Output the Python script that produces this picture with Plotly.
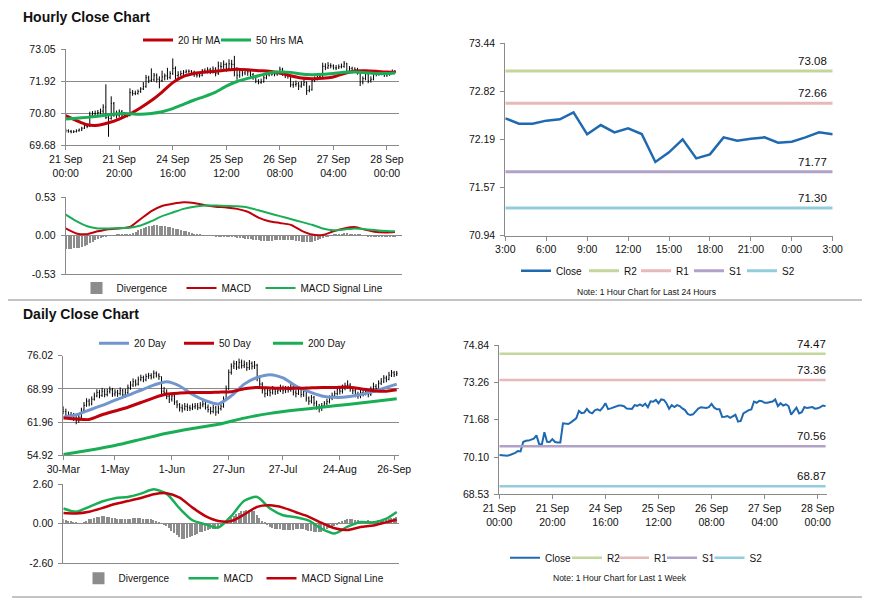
import plotly.graph_objects as go

W, H = 873, 601
PAGE_MARGIN = 8  # default <body> margin of the page the figure is placed in
FONT = "Liberation Sans, Arial, sans-serif"

# ====================== DATA ======================
# ---- Hourly (last 1 week, hourly bars) ----
H_TICK_DAYS = ["21 Sep", "21 Sep", "24 Sep", "25 Sep", "26 Sep", "27 Sep", "28 Sep"]
H_TICK_TIMES = ["00:00", "20:00", "16:00", "12:00", "08:00", "04:00", "00:00"]
H_TICK_IDX = [0, 20, 40, 60, 80, 100, 120]

H_FIRST_OPEN = 70.22
H_CLOSE = [70.19, 70.17, 70.15, 70.16, 70.19, 70.22, 70.28, 70.36, 70.34, 70.74,
           70.79, 70.80, 70.83, 70.88, 71.02, 70.66, 70.62, 71.15, 70.75, 70.74,
           70.86, 70.74, 70.72, 70.72, 71.53, 71.50, 71.50, 71.57, 71.66, 71.74,
           72.05, 71.96, 71.98, 72.14, 72.00, 71.95, 72.08, 72.12, 72.07, 72.20,
           72.38, 72.13, 72.16, 72.20, 72.25, 72.28, 72.28, 72.25, 72.16, 72.14,
           72.14, 72.30, 72.27, 72.33, 72.26, 72.36, 72.21, 72.46, 72.44, 72.52,
           72.38, 72.54, 72.52, 72.38, 72.14, 72.30, 72.22, 72.30, 72.26, 72.16,
           72.09, 71.93, 71.88, 71.91, 72.05, 72.15, 72.21, 72.18, 72.18, 72.21,
           72.35, 72.19, 72.12, 72.12, 71.80, 71.81, 71.84, 71.76, 71.83, 71.89,
           71.60, 71.63, 71.95, 72.02, 72.09, 72.12, 72.45, 72.40, 72.48,
           72.465, 72.396, 72.396, 72.435, 72.452, 72.543, 72.257, 72.378, 72.283, 72.335,
           72.261, 71.898, 72.023, 72.192, 71.945, 71.997, 72.218, 72.175, 72.201, 72.218,
           72.149, 72.162, 72.218, 72.283, 72.257]
H_HIGH = [70.27, 70.24, 70.22, 70.21, 70.24, 70.27, 70.33, 70.42, 70.44, 70.86,
          70.88, 70.90, 70.92, 70.97, 71.12, 71.82, 70.80, 71.40, 71.20, 70.90,
          70.94, 70.92, 70.82, 70.80, 71.68, 71.62, 71.60, 71.64, 71.72, 71.90,
          72.15, 72.12, 72.38, 72.22, 72.20, 72.10, 72.30, 72.20, 72.40, 72.28,
          72.73, 72.45, 72.28, 72.30, 72.32, 72.34, 72.34, 72.32, 72.30, 72.22,
          72.24, 72.36, 72.38, 72.42, 72.40, 72.45, 72.42, 72.62, 72.60, 72.66,
          72.58, 72.70, 72.68, 72.82, 72.42, 72.38, 72.36, 72.38, 72.36, 72.30,
          72.22, 72.14, 72.00, 72.02, 72.12, 72.22, 72.28, 72.30, 72.26, 72.30,
          72.44, 72.40, 72.24, 72.20, 72.16, 71.92, 71.95, 71.90, 71.94, 72.00,
          71.92, 71.78, 72.04, 72.10, 72.16, 72.20, 72.58, 72.56, 72.60, 72.56,
          72.52, 72.50, 72.52, 72.55, 72.64, 72.58, 72.46, 72.44, 72.42, 72.40,
          72.30, 72.10, 72.26, 72.24, 72.10, 72.28, 72.28, 72.26, 72.28, 72.26,
          72.24, 72.28, 72.34, 72.32]
H_LOW = [70.12, 70.12, 70.10, 70.11, 70.13, 70.16, 70.18, 70.25, 70.28, 70.32,
         70.66, 70.70, 70.72, 70.76, 70.80, 70.60, 69.98, 70.58, 70.68, 70.62,
         70.66, 70.66, 70.64, 70.66, 70.70, 71.42, 71.44, 71.46, 71.52, 71.62,
         71.70, 71.86, 71.90, 71.92, 71.88, 71.68, 71.90, 71.96, 71.98, 72.00,
         72.15, 72.00, 72.04, 72.10, 72.15, 72.20, 72.22, 72.18, 72.08, 72.06,
         72.06, 72.10, 72.20, 72.20, 72.18, 72.20, 72.10, 72.15, 72.30, 72.36,
         72.26, 72.30, 72.36, 72.10, 71.98, 72.05, 72.10, 72.14, 72.12, 72.05,
         71.98, 71.86, 71.82, 71.84, 71.88, 72.00, 72.10, 72.12, 72.10, 72.12,
         72.16, 72.12, 72.04, 72.02, 71.72, 71.70, 71.74, 71.62, 71.70, 71.76,
         71.45, 71.54, 71.60, 71.90, 71.96, 72.02, 72.08, 72.32, 72.36, 72.38,
         72.34, 72.32, 72.36, 72.38, 72.40, 72.18, 72.20, 72.20, 72.22, 72.16,
         71.76, 71.82, 71.96, 71.86, 71.88, 71.96, 72.10, 72.12, 72.14, 72.08,
         72.08, 72.12, 72.18, 72.20]

H_MA_IDX = [0, 4, 8, 12, 16, 20, 24, 28, 32, 36, 40, 44, 48, 52, 56, 60,
            64, 68, 72, 76, 80, 84, 88, 92, 96, 100, 104, 108, 112, 116, 120, 123]
H_MA20 = [70.72, 70.55, 70.40, 70.38, 70.47, 70.60, 70.78, 71.00, 71.25, 71.55, 71.88, 72.10,
          72.20, 72.25, 72.28, 72.32, 72.35, 72.33, 72.30, 72.28, 72.22, 72.12, 72.04, 72.02,
          72.03, 72.08, 72.20, 72.29, 72.30, 72.28, 72.25, 72.24]
H_MA50 = [70.60, 70.63, 70.66, 70.70, 70.75, 70.79, 70.79, 70.77, 70.80, 70.86, 70.97, 71.12,
          71.27, 71.40, 71.55, 71.76, 71.92, 72.03, 72.12, 72.22, 72.25, 72.24, 72.18, 72.16,
          72.17, 72.20, 72.24, 72.25, 72.23, 72.20, 72.20, 72.22]
H_MACD = [0.10, 0.03, 0.02, 0.06, 0.09, 0.10, 0.12, 0.23, 0.34, 0.41, 0.44, 0.46,
          0.45, 0.42, 0.40, 0.39, 0.37, 0.33, 0.25, 0.20, 0.175, 0.15, 0.07, 0.015,
          0.01, 0.06, 0.10, 0.12, 0.08, 0.05, 0.045, 0.05]
H_SIGNAL = [0.29, 0.20, 0.13, 0.10, 0.10, 0.105, 0.11, 0.14, 0.20, 0.27, 0.32, 0.37,
            0.40, 0.415, 0.415, 0.41, 0.405, 0.39, 0.35, 0.31, 0.27, 0.23, 0.19, 0.15,
            0.10, 0.075, 0.085, 0.10, 0.09, 0.075, 0.065, 0.06]
H_DIV = [-0.19, -0.19, -0.19, -0.18, -0.18, -0.17, -0.16, -0.15, -0.13, -0.11,
         -0.09, -0.07, -0.05, -0.03, -0.02, -0.01, -0.005,
         0.0, 0.0, 0.005, 0.005, 0.005, 0.005, 0.01, 0.01,
         0.03, 0.05, 0.07, 0.09, 0.10, 0.115, 0.125, 0.135, 0.14, 0.14, 0.135, 0.13, 0.125,
         0.12, 0.11, 0.10, 0.09, 0.085, 0.075, 0.065, 0.055, 0.045, 0.035, 0.025, 0.015, 0.008,
         0.0, 0.0, -0.005, -0.005, -0.005, -0.01, -0.01, -0.01, -0.01, -0.015, -0.015, -0.02, -0.02, -0.03,
         -0.035, -0.04, -0.045, -0.05, -0.055, -0.06, -0.065, -0.07, -0.075, -0.08,
         -0.08, -0.08, -0.075, -0.07, -0.07, -0.065, -0.065, -0.065, -0.07, -0.07,
         -0.07, -0.075, -0.08, -0.085, -0.085, -0.09, -0.09, -0.085, -0.08, -0.07,
         -0.055, -0.04, -0.025, -0.01,
         0.0, 0.01, 0.015, 0.02, 0.025, 0.03, 0.03, 0.025, 0.02, 0.015, 0.01, 0.005, 0.0, -0.005,
         -0.01, -0.015, -0.02, -0.025, -0.025, -0.02, -0.02, -0.015, -0.015, -0.01, -0.01]

# ---- Last 24 hours ----
H24_LABELS = ["3:00", "4:00", "5:00", "6:00", "7:00", "8:00", "9:00", "10:00", "11:00",
              "12:00", "13:00", "14:00", "15:00", "16:00", "17:00", "18:00", "19:00",
              "20:00", "21:00", "22:00", "23:00", "0:00", "1:00", "2:00", "3:00"]
H24_CLOSE = H_CLOSE[-25:]
H24_Y_TICKS = [70.94, 71.57, 72.19, 72.82, 73.44]
DAY_LEVEL_NAMES = ["R2", "R1", "S1", "S2"]
DAY_LEVEL_VALUES = [73.08, 72.66, 71.77, 71.30]

# ---- Last 1 week ----
WEEK_Y_TICKS = [68.53, 70.10, 71.68, 73.26, 74.84]
WEEK_LEVEL_VALUES = [74.47, 73.36, 70.56, 68.87]

# ---- Daily ----
D_TICK_LABELS = ["30-Mar", "1-May", "1-Jun", "27-Jun", "27-Jul", "24-Aug", "26-Sep"]
D_TICK_IDX = [0, 20, 42, 64, 85, 107, 128]
D_FIRST_OPEN = 64.6
D_CLOSE = [64.2, 63.0, 63.5, 63.4, 62.8, 62.3, 63.0, 64.5, 65.5, 66.4,
           65.8, 66.8, 67.5, 68.2, 67.6, 68.5, 67.8, 68.4, 68.8, 67.9,
           68.3, 68.0, 68.6, 67.7, 68.2, 69.2, 69.8, 70.5, 70.0, 71.0,
           71.4, 70.9, 71.6, 71.8, 71.5, 72.3, 71.9, 71.6, 68.5, 68.2,
           67.4, 66.8, 67.5, 66.2, 65.6, 65.0, 64.8, 65.3, 65.0, 64.9,
           65.2, 65.4, 65.0, 65.6, 65.8, 65.1, 64.6, 64.2, 65.0, 64.1,
           64.8, 65.3, 66.8, 69.0, 72.5, 73.8, 74.3, 73.6, 74.6, 73.9,
           74.2, 73.5, 74.4, 73.8, 74.0, 71.2, 70.0, 68.8, 68.0, 68.6,
           68.2, 68.9, 68.4, 68.7, 69.3, 68.6, 69.0, 68.8, 69.4, 68.3,
           68.0, 69.1, 67.8, 68.5, 67.0, 66.4, 67.2, 66.0, 65.2, 64.8,
           65.4, 65.9, 66.3, 67.0, 67.6, 68.0, 68.8, 68.5, 69.2, 69.6,
           69.8, 69.0, 68.6, 67.9, 67.5, 68.2, 68.0, 68.4, 67.8, 68.8,
           69.5, 69.0, 70.2, 70.6, 71.3, 71.0, 71.9, 72.4, 72.0, 72.3]
D_HIGH = [65.3, 64.8, 64.2, 64.1, 63.9, 63.2, 63.6, 65.0, 66.2, 67.0,
          66.9, 67.4, 68.2, 68.9, 68.8, 69.2, 69.0, 69.0, 69.5, 69.2,
          68.9, 68.8, 69.3, 69.0, 69.0, 69.9, 70.6, 71.2, 71.0, 71.6,
          72.0, 71.8, 72.2, 72.4, 72.3, 72.9, 72.7, 72.3, 71.6, 69.4,
          68.9, 67.9, 68.2, 67.8, 66.6, 66.0, 65.7, 66.0, 65.9, 65.6,
          65.9, 66.0, 66.0, 66.2, 66.6, 66.3, 65.7, 65.2, 65.6, 65.4,
          65.5, 66.0, 67.4, 69.7, 73.1, 74.4, 75.0, 74.9, 75.4, 75.2,
          75.0, 74.7, 75.1, 74.8, 74.9, 74.3, 71.8, 70.4, 69.4, 69.3,
          69.0, 69.6, 69.3, 69.4, 69.9, 69.7, 69.6, 69.6, 70.0, 69.7,
          68.8, 69.6, 69.4, 69.0, 68.8, 67.4, 67.7, 67.5, 66.5, 65.8,
          66.0, 66.4, 66.9, 67.6, 68.2, 68.6, 69.4, 69.3, 69.9, 70.3,
          70.8, 70.2, 69.5, 69.0, 68.4, 68.8, 68.9, 69.2, 68.9, 69.5,
          70.3, 70.0, 70.8, 71.3, 71.9, 71.8, 72.6, 73.0, 72.8, 72.8]
D_LOW = [63.6, 62.6, 62.5, 62.7, 62.2, 61.5, 61.8, 62.8, 64.2, 65.2,
         65.3, 65.5, 66.5, 67.2, 67.0, 67.3, 67.2, 67.4, 68.0, 67.3,
         67.4, 67.3, 67.6, 67.0, 67.2, 67.9, 68.8, 69.4, 69.5, 69.7,
         70.6, 70.4, 70.6, 71.1, 71.0, 71.2, 71.4, 70.9, 67.8, 67.6,
         66.8, 66.0, 66.3, 65.6, 64.9, 64.2, 64.0, 64.4, 64.3, 64.3,
         64.5, 64.7, 64.5, 64.7, 65.1, 64.6, 64.0, 63.6, 63.8, 63.3,
         63.7, 64.4, 65.0, 66.5, 68.8, 72.0, 73.2, 73.0, 73.2, 73.3,
         73.4, 72.8, 73.0, 73.1, 73.2, 70.6, 69.4, 68.0, 67.2, 67.5,
         67.4, 67.8, 67.7, 67.9, 68.3, 67.9, 68.1, 68.2, 68.4, 67.6,
         67.2, 67.7, 67.2, 67.3, 66.3, 65.6, 65.9, 65.3, 64.6, 64.0,
         64.3, 65.0, 65.5, 65.9, 66.6, 67.1, 67.6, 67.8, 68.0, 68.7,
         69.0, 68.4, 67.9, 67.2, 66.9, 67.0, 67.4, 67.6, 67.2, 67.5,
         68.5, 68.4, 68.7, 69.8, 70.2, 70.4, 70.8, 71.5, 71.5, 71.7]

D_MA_IDX = [0, 5, 10, 15, 20, 25, 30, 35, 40, 45, 50, 55, 60, 65, 70, 75, 80, 85,
            90, 95, 100, 105, 110, 115, 120, 125, 129]
D_MA20 = [63.0, 63.5, 64.5, 65.5, 66.6, 67.6, 68.7, 69.8, 70.5, 69.6, 67.8, 66.5, 65.8,
          67.5, 70.0, 71.4, 72.0, 71.3, 69.6, 68.4, 67.5, 67.2, 67.3, 67.8, 68.4, 69.3, 70.0]
D_MA50 = [62.8, 62.6, 62.5, 63.5, 64.3, 65.1, 66.1, 67.1, 67.9, 68.1, 68.2, 68.2, 68.3,
          68.4, 69.0, 69.3, 69.2, 69.1, 69.1, 69.2, 69.3, 69.3, 69.4, 69.0, 68.6, 68.5, 68.8]
D_MA200_IDX = [0, 10, 20, 30, 40, 50, 60, 70, 80, 90, 100, 110, 120, 129]
D_MA200 = [55.1, 56.0, 57.0, 58.3, 59.6, 60.6, 61.5, 62.8, 63.8, 64.5, 65.1, 65.7, 66.3, 66.9]

D_MACD = [0.99, 0.78, 1.10, 1.45, 1.67, 1.75, 1.97, 2.25, 1.95, 1.00, 0.22, -0.05, -0.26,
          0.50, 1.50, 1.75, 0.99, 0.55, 0.42, 0.20, -0.35, -0.65, -0.20, 0.11, 0.08, 0.33, 0.77]
D_SIGNAL = [0.70, 0.67, 0.78, 1.02, 1.29, 1.48, 1.68, 1.93, 2.00, 1.70, 1.05, 0.50, 0.18,
            0.17, 0.60, 1.10, 1.20, 1.05, 0.75, 0.45, 0.05, -0.30, -0.42, -0.22, -0.12, 0.10, 0.26]
D_DIV = [0.30, 0.25, 0.20, 0.15, 0.10, 0.05, 0.02, 0.0,
         0.10, 0.20, 0.28, 0.33, 0.38, 0.42,
         0.46, 0.48, 0.48, 0.46, 0.44, 0.40,
         0.36, 0.32, 0.30, 0.28, 0.28, 0.30, 0.32, 0.34, 0.35, 0.35, 0.34,
         0.33, 0.32, 0.30, 0.28, 0.22, 0.15, 0.08, 0.02,
         -0.05, -0.15, -0.30, -0.45, -0.60, -0.75, -0.88, -0.98, -1.0, -0.96, -0.90, -0.82, -0.74, -0.66,
         -0.58, -0.52, -0.46, -0.42, -0.38, -0.35, -0.32, -0.28, -0.20, -0.08,
         0.05, 0.20, 0.35, 0.50, 0.62, 0.72, 0.80, 0.86, 0.90, 0.92, 0.90, 0.80, 0.60, 0.40,
         0.20, 0.05, -0.10, -0.20,
         -0.28, -0.32, -0.35, -0.38, -0.40, -0.40, -0.42, -0.42, -0.40, -0.38,
         -0.36, -0.36, -0.38, -0.40, -0.45, -0.50, -0.52, -0.55, -0.55, -0.52,
         -0.45, -0.38, -0.30, -0.22, -0.15, -0.05, 0.05, 0.15, 0.22, 0.28,
         0.30, 0.28, 0.25, 0.22, 0.20, 0.18, 0.20, 0.22, 0.20, 0.18,
         0.20, 0.22, 0.25, 0.28, 0.30, 0.32, 0.35, 0.38, 0.42]

# ====================== STYLE ======================
RED = "#C0000B"
GREEN = "#19AE55"
BLUE_MA = "#7196CE"
CLOSE_BLUE = "#1F69B1"
DIV_GRAY = "#8C8C8C"
LEVEL_COLORS = ["#C3D69B", "#E6B9B8", "#B3A2C7", "#93CDDD"]
GRID = "#8A8A8A"
TXT = "#111111"


def fx(p):
    # page pixel -> paper fraction (figure sits PAGE_MARGIN px inside the page)
    return (p - PAGE_MARGIN) / W


def fy(p):
    return 1 - (p - PAGE_MARGIN) / H


fig = go.Figure()

# ---------- Panel A: hourly candles + MAs ----------
h_idx = list(range(len(H_CLOSE)))
h_open = [H_FIRST_OPEN] + H_CLOSE[:-1]
fig.add_trace(go.Ohlc(x=h_idx, open=h_open, high=H_HIGH, low=H_LOW, close=H_CLOSE,
                      increasing=dict(line=dict(color="black", width=1)),
                      decreasing=dict(line=dict(color="black", width=1)),
                      tickwidth=0.3, showlegend=False, hoverinfo="skip",
                      xaxis="x", yaxis="y"))
fig.add_trace(go.Scatter(x=H_MA_IDX, y=H_MA20, mode="lines", name="20 Hr MA",
                         line=dict(color=RED, width=3, shape="spline", smoothing=0.6),
                         xaxis="x", yaxis="y", legend="legend", legendwidth=33))
fig.add_trace(go.Scatter(x=H_MA_IDX, y=H_MA50, mode="lines", name="50 Hrs MA",
                         line=dict(color=GREEN, width=3, shape="spline", smoothing=0.6),
                         xaxis="x", yaxis="y", legend="legend"))

# ---------- Panel B: hourly MACD ----------
fig.add_trace(go.Bar(x=list(range(len(H_DIV))), y=H_DIV, name="Divergence", width=0.45,
                     marker=dict(color=DIV_GRAY, line=dict(width=0)),
                     xaxis="x2", yaxis="y2", legend="legend2", legendwidth=60))
fig.add_trace(go.Scatter(x=H_MA_IDX, y=H_MACD, mode="lines", name="MACD",
                         line=dict(color=RED, width=2, shape="spline", smoothing=0.6),
                         xaxis="x2", yaxis="y2", legend="legend2", legendwidth=34))
fig.add_trace(go.Scatter(x=H_MA_IDX, y=H_SIGNAL, mode="lines", name="MACD Signal Line",
                         line=dict(color=GREEN, width=2, shape="spline", smoothing=0.6),
                         xaxis="x2", yaxis="y2", legend="legend2"))

# ---------- Panel C: last 24 hours ----------
h24_idx = list(range(len(H24_CLOSE)))
fig.add_trace(go.Scatter(x=h24_idx, y=H24_CLOSE, mode="lines", name="Close",
                         line=dict(color=CLOSE_BLUE, width=2.5),
                         xaxis="x3", yaxis="y3", legend="legend3", legendwidth=23))
for name, val, col, lw in zip(DAY_LEVEL_NAMES, DAY_LEVEL_VALUES, LEVEL_COLORS, [7, 8, 8, 0]):
    fig.add_trace(go.Scatter(x=h24_idx, y=[val] * len(h24_idx), mode="lines", name=name,
                             line=dict(color=col, width=3), hoverinfo="skip",
                             xaxis="x3", yaxis="y3", legend="legend3",
                             legendwidth=lw if lw else None))

# ---------- Panel D: daily candles + MAs ----------
d_idx = list(range(len(D_CLOSE)))
d_open = [D_FIRST_OPEN] + D_CLOSE[:-1]
fig.add_trace(go.Ohlc(x=d_idx, open=d_open, high=D_HIGH, low=D_LOW, close=D_CLOSE,
                      increasing=dict(line=dict(color="black", width=1)),
                      decreasing=dict(line=dict(color="black", width=1)),
                      tickwidth=0.3, showlegend=False, hoverinfo="skip",
                      xaxis="x4", yaxis="y4"))
fig.add_trace(go.Scatter(x=D_MA_IDX, y=D_MA20, mode="lines", name="20 Day",
                         line=dict(color=BLUE_MA, width=3, shape="spline", smoothing=0.7),
                         xaxis="x4", yaxis="y4", legend="legend4", legendwidth=40))
fig.add_trace(go.Scatter(x=D_MA_IDX, y=D_MA50, mode="lines", name="50 Day",
                         line=dict(color=RED, width=3, shape="spline", smoothing=0.6),
                         xaxis="x4", yaxis="y4", legend="legend4", legendwidth=44))
fig.add_trace(go.Scatter(x=D_MA200_IDX, y=D_MA200, mode="lines", name="200 Day",
                         line=dict(color=GREEN, width=3, shape="spline", smoothing=0.6),
                         xaxis="x4", yaxis="y4", legend="legend4"))

# ---------- Panel E: daily MACD ----------
fig.add_trace(go.Bar(x=list(range(len(D_DIV))), y=D_DIV, name="Divergence", width=0.45,
                     marker=dict(color=DIV_GRAY, line=dict(width=0)),
                     xaxis="x5", yaxis="y5", legend="legend5", legendwidth=60))
fig.add_trace(go.Scatter(x=D_MA_IDX, y=D_MACD, mode="lines", name="MACD",
                         line=dict(color=GREEN, width=2.5, shape="spline", smoothing=0.7),
                         xaxis="x5", yaxis="y5", legend="legend5", legendwidth=33))
fig.add_trace(go.Scatter(x=D_MA_IDX, y=D_SIGNAL, mode="lines", name="MACD Signal Line",
                         line=dict(color=RED, width=2.5, shape="spline", smoothing=0.7),
                         xaxis="x5", yaxis="y5", legend="legend5"))

# ---------- Panel F: last 1 week close ----------
fig.add_trace(go.Scatter(x=h_idx, y=H_CLOSE, mode="lines", name="Close",
                         line=dict(color=CLOSE_BLUE, width=2),
                         xaxis="x6", yaxis="y6", legend="legend6", legendwidth=17))
for name, val, col, lw in zip(DAY_LEVEL_NAMES, WEEK_LEVEL_VALUES, LEVEL_COLORS, [2, 3, 2.5, 0]):
    fig.add_trace(go.Scatter(x=h_idx, y=[val] * len(h_idx), mode="lines", name=name,
                             line=dict(color=col, width=2.5), hoverinfo="skip",
                             xaxis="x6", yaxis="y6", legend="legend6",
                             legendwidth=lw if lw else None))

# ====================== LAYOUT ======================
tickfont = dict(family=FONT, size=10.5, color=TXT)


def xax(d0, d1, anchor, rng, tickvals=None, ticktext=None, labels=True, **kw):
    a = dict(domain=[fx(d0), fx(d1)], anchor=anchor, range=rng, showgrid=False,
             zeroline=False, showline=True, linecolor=GRID, linewidth=1,
             ticks="outside" if labels else "", ticklen=4, tickcolor=GRID,
             showticklabels=labels, tickfont=tickfont, fixedrange=True,
             rangeslider=dict(visible=False), automargin=False)
    if tickvals is not None:
        a.update(tickmode="array", tickvals=tickvals, ticktext=ticktext)
    a.update(kw)
    return a


def yax(top, bottom, anchor, rng, tickvals, ticktext, grid=True):
    return dict(domain=[fy(bottom), fy(top)], anchor=anchor, range=rng,
                tickmode="array", tickvals=tickvals, ticktext=ticktext,
                showgrid=grid, gridcolor=GRID, gridwidth=1, zeroline=False,
                showline=True, linecolor=GRID, linewidth=1, ticks="outside",
                ticklen=4, tickcolor=GRID, tickfont=tickfont, fixedrange=True,
                ticklabelstandoff=3, automargin=False)


h_ticktext = [f"{d}<br>{t}" for d, t in zip(H_TICK_DAYS, H_TICK_TIMES)]
A_Y = [69.68, 70.80, 71.92, 73.05]
B_Y = [-0.53, 0.0, 0.53]
D_Y = [54.92, 61.96, 68.99, 76.02]
E_Y = [-2.60, 0.0, 2.60]


def legend_cfg(xpx, ypx):
    return dict(x=fx(xpx), y=fy(ypx), xanchor="left", yanchor="middle",
                orientation="h", bgcolor="rgba(0,0,0,0)", borderwidth=0,
                font=dict(family=FONT, size=10, color=TXT), itemwidth=30,
                itemclick=False, itemdoubleclick=False)


fig.update_layout(
    width=W, height=H, autosize=False,
    margin=dict(l=0, r=0, t=0, b=0, pad=0, autoexpand=False),
    paper_bgcolor="white", plot_bgcolor="white",
    font=dict(family=FONT, size=10.5, color=TXT),
    showlegend=True, bargap=0,
    xaxis=xax(65.7, 399, "y", [0, 124.5], H_TICK_IDX, h_ticktext),
    yaxis=yax(49.3, 145.3, "x", [A_Y[0], A_Y[-1]], A_Y, [f"{v:.2f}" for v in A_Y]),
    xaxis2=xax(65.7, 401.7, "y2", [0, 125.5], labels=False),
    yaxis2=yax(197.3, 274, "x2", [B_Y[0], B_Y[-1]], B_Y, [f"{v:.2f}" for v in B_Y]),
    xaxis3=xax(505.3, 832.7, "y3", [0, len(H24_LABELS) - 1],
               list(range(0, len(H24_LABELS), 3)), H24_LABELS[::3]),
    yaxis3=yax(43.3, 235.7, "x3", [H24_Y_TICKS[0], H24_Y_TICKS[-1]], H24_Y_TICKS,
               [f"{v:.2f}" for v in H24_Y_TICKS], grid=False),
    xaxis4=xax(63.3, 399.3, "y4", [0, 130], D_TICK_IDX, D_TICK_LABELS),
    yaxis4=yax(355.7, 455.3, "x4", [D_Y[0], D_Y[-1]], D_Y, [f"{v:.2f}" for v in D_Y]),
    xaxis5=xax(63.3, 399.3, "y5", [0, 130], labels=False),
    yaxis5=yax(484, 563.3, "x5", [E_Y[0], E_Y[-1]], E_Y, [f"{v:.2f}" for v in E_Y]),
    xaxis6=xax(499.3, 826.7, "y6", [0, 123.4], H_TICK_IDX, h_ticktext),
    yaxis6=yax(345, 494.3, "x6", [WEEK_Y_TICKS[0], WEEK_Y_TICKS[-1]], WEEK_Y_TICKS,
               [f"{v:.2f}" for v in WEEK_Y_TICKS], grid=False),
    legend=legend_cfg(138, 40),
    legend2=legend_cfg(76.5, 288),
    legend3=legend_cfg(516, 270.7),
    legend4=legend_cfg(94, 343.3),
    legend5=legend_cfg(78.5, 578.3),
    legend6=legend_cfg(505, 557.7),
)

annotations = [
    dict(text="<b>Hourly Close Chart</b>", x=fx(20.5), y=fy(17), xref="paper", yref="paper",
         xanchor="left", yanchor="middle", showarrow=False, font=dict(family=FONT, size=14, color=TXT)),
    dict(text="<b>Daily Close Chart</b>", x=fx(20.5), y=fy(313.5), xref="paper", yref="paper",
         xanchor="left", yanchor="middle", showarrow=False, font=dict(family=FONT, size=14, color=TXT)),
    dict(text="Note: 1 Hour Chart for Last 24 Hours", x=fx(646.5), y=fy(291.7), xref="paper",
         yref="paper", xanchor="center", yanchor="middle", showarrow=False,
         font=dict(family=FONT, size=8.5, color=TXT)),
    dict(text="Note: 1 Hour Chart for Last 1 Week", x=fx(620), y=fy(578), xref="paper",
         yref="paper", xanchor="center", yanchor="middle", showarrow=False,
         font=dict(family=FONT, size=8.5, color=TXT)),
]
for v in DAY_LEVEL_VALUES:
    annotations.append(dict(text=f"{v:.2f}", x=0.989, y=v, xref="x3 domain", yref="y3",
                            xanchor="right", yanchor="middle", yshift=10, showarrow=False,
                            font=dict(family=FONT, size=11.5, color=TXT)))
for v in WEEK_LEVEL_VALUES:
    annotations.append(dict(text=f"{v:.2f}", x=1.004, y=v, xref="x6 domain", yref="y6",
                            xanchor="right", yanchor="middle", yshift=10, showarrow=False,
                            font=dict(family=FONT, size=11.5, color=TXT)))
fig.update_layout(annotations=annotations)

# separator rules between the two sections
fig.update_layout(shapes=[
    dict(type="line", xref="paper", yref="paper", x0=fx(0), x1=fx(862), y0=fy(300), y1=fy(300),
         line=dict(color="#8A8A8A", width=1.2)),
    dict(type="line", xref="paper", yref="paper", x0=fx(12), x1=fx(862), y0=fy(597), y1=fy(597),
         line=dict(color="#8A8A8A", width=1.2)),
])

fig.write_html("out.html", config=dict(displayModeBar=False, responsive=False))
